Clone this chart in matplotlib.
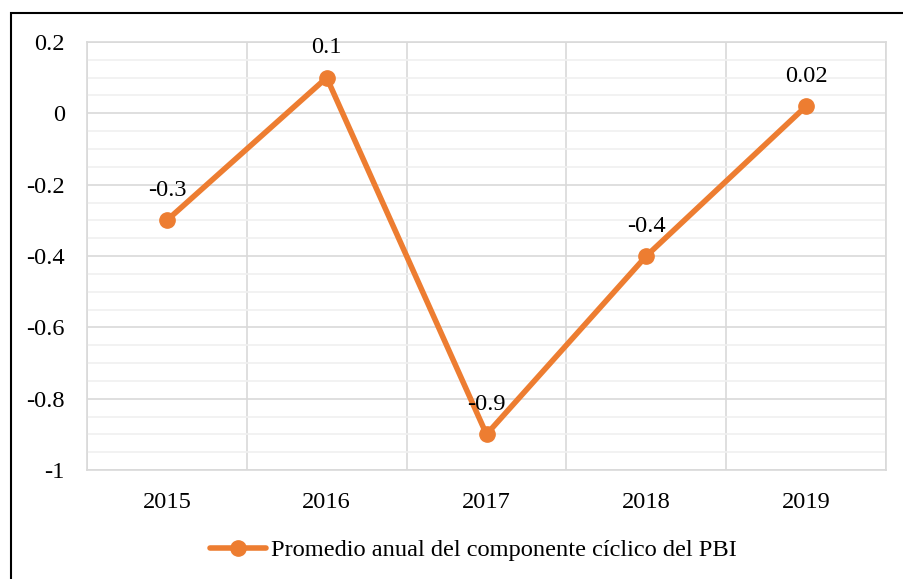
"""
Promedio anual del componente ciclico del PBI
"""

import matplotlib.pyplot as plt
from matplotlib.patches import Rectangle
from matplotlib.ticker import MultipleLocator, FixedLocator, FuncFormatter

#---------------------------------------------------------------------------------------------------
# Input Parameters
#---------------------------------------------------------------------------------------------------

years = ['2015', '2016', '2017', '2018', '2019']
ciclo = [-0.3, 0.1, -0.9, -0.4, 0.02]
etiquetas = ['-0.3', '0.1', '-0.9', '-0.4', '0.02']
serie = 'Promedio anual del componente cíclico del PBI'

out_fname = 'out.png'

#---------------------------------------------------------------------------------------------------
# Main Program
#---------------------------------------------------------------------------------------------------

plt.rcParams['font.family'] = ['Liberation Serif', 'DejaVu Serif']
fs = 17.6

fig = plt.figure(figsize=(9.04, 5.79), dpi=100)
ax = fig.add_axes([87/904, 1-470/579, (886-87)/904, (470-42)/579])

x = list(range(1, len(years)+1))
ax.plot(x, ciclo, color='#ED7D31', lw=4, marker='o', ms=11, label=serie, zorder=3,
        solid_capstyle='round')

for xi, yi, lab in zip(x, ciclo, etiquetas):
    ax.annotate(lab, (xi, yi), xytext=(0, 14), textcoords='offset points',
                ha='center', va='bottom', fontsize=fs, zorder=4)

ax.set_xlim(0.5, len(years)+0.5)
ax.set_ylim(-1, 0.2)
ax.set_xticks(x)
ax.set_xticklabels(years)
ax.xaxis.set_minor_locator(FixedLocator([i+0.5 for i in range(len(years)+1)]))
ax.yaxis.set_major_locator(FixedLocator([-1, -0.8, -0.6, -0.4, -0.2, 0, 0.2]))
ax.yaxis.set_major_formatter(FuncFormatter(lambda v, p: f'{v:g}' if abs(v) > 1e-9 else '0'))
ax.yaxis.set_minor_locator(MultipleLocator(0.05))

ax.grid(which='major', axis='y', color='#D9D9D9', lw=1.2)
ax.grid(which='minor', axis='y', color='#F0F0F0', lw=1.2)
ax.grid(which='minor', axis='x', color='#D9D9D9', lw=1.2)
ax.set_axisbelow(True)
ax.tick_params(which='both', length=0, labelsize=fs)
ax.tick_params(axis='y', pad=16)
ax.tick_params(axis='x', pad=16)
for s in ax.spines.values():
    s.set_color('#D9D9D9')
    s.set_linewidth(1.2)

fig.legend(loc='center', bbox_to_anchor=(473/904, 1-550/579), frameon=False,
           fontsize=fs, handlelength=2.3, handletextpad=0.2)

# Chart border
fig.patches.append(Rectangle((11/904, -0.1), 1.2, 1-13/579+0.1, transform=fig.transFigure,
                             fill=False, edgecolor='black', lw=1.5))

plt.savefig(out_fname, dpi=100)
